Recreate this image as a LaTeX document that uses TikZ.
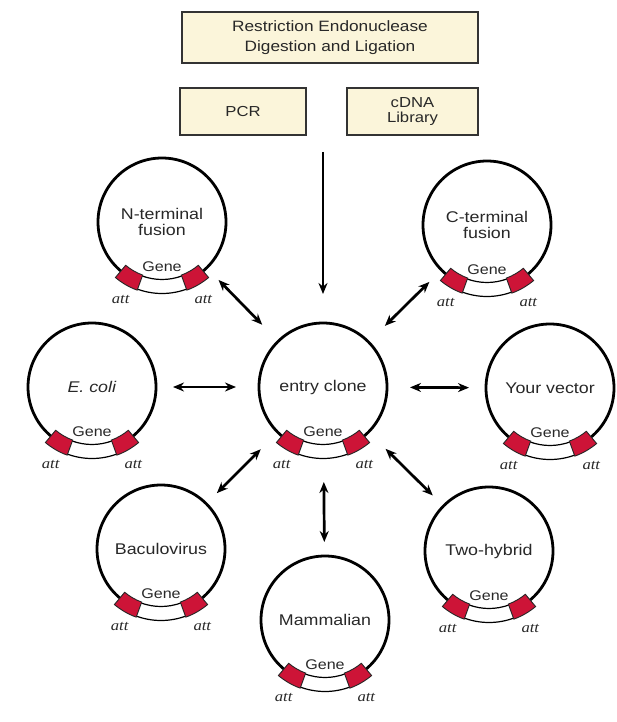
\documentclass[tikz,border=0pt]{standalone}
\usepackage{fontspec}
\setmainfont{Liberation Sans}[FakeStretch=1.15]
\newfontfamily\attfont{Liberation Serif}[FakeStretch=1.15]
\usetikzlibrary{arrows.meta}
\definecolor{cream}{RGB}{251,245,218}
\definecolor{genered}{RGB}{205,20,55}
\definecolor{txt}{RGB}{40,40,40}
\tikzset{
  plas/.style={circle, draw=black, line width=2.8pt, minimum size=128pt, inner sep=0pt, outer sep=0pt,
    text=txt, font=\fontsize{15.5}{16}\selectfont, align=center},
  bandline/.style={draw=black, line width=1.2pt},
  attbox/.style={fill=genered, draw=black!85, line width=0.9pt},
  genelbl/.style={text=txt, font=\fontsize{14}{15}\selectfont, inner sep=0pt},
  attlbl/.style={text=txt, font=\attfont\itshape\fontsize{14.5}{15}\selectfont, inner sep=0pt},
  topbox/.style={draw=black!80, line width=1.9pt, fill=cream, inner sep=0pt, text=txt, align=center},
  dbl/.style={{Stealth[length=11pt,width=9pt]}-{Stealth[length=11pt,width=9pt]}, line width=2.7pt},
  sgl/.style={-{Stealth[length=11pt,width=9pt]}, line width=2.7pt}
}
\newcommand\drawplasmid[4]{%
  \node[plas] (#1) at (#2,#3) {#4};
  \begin{scope}[shift={(#2,#3)}]
    \fill[white] (61:57) arc[start angle=61,end angle=119,radius=57] -- (119:72) arc[start angle=119,end angle=61,radius=72] -- cycle;
    \draw[bandline] (69:57.5) arc[start angle=69,end angle=111,radius=57.5];
    \draw[bandline] (69:71.5) arc[start angle=69,end angle=111,radius=71.5];
    \draw[attbox] (50:56.5) arc[start angle=50,end angle=70,radius=56.5] -- (70:72.5) arc[start angle=70,end angle=50,radius=72.5] -- cycle;
    \draw[attbox] (110:56.5) arc[start angle=110,end angle=130,radius=56.5] -- (130:72.5) arc[start angle=130,end angle=110,radius=72.5] -- cycle;
    \node[genelbl] (#1-gene) at (90:45) {Gene};
    \node[attlbl] (#1-attl) at (118:88) {att};
    \node[attlbl] (#1-attr) at (62:88) {att};
  \end{scope}}
\begin{document}
\begin{tikzpicture}[x=1pt,y=1pt,yscale=-1]
\useasboundingbox[fill=white] (0,0) rectangle (617,722);
% top boxes
\node[topbox, minimum width=296pt, minimum height=51pt, font=\fontsize{15}{20}\selectfont] (rest) at (330,37.5) {Restriction Endonuclease\\Digestion and Ligation};
\node[topbox, minimum width=126pt, minimum height=47pt, font=\fontsize{14.5}{15}\selectfont] (pcr) at (243,111.5) {PCR};
\node[topbox, minimum width=131pt, minimum height=47pt, font=\fontsize{14.5}{15}\selectfont] (cdna) at (412.5,111.5) {cDNA\\Library};
% plasmids
\drawplasmid{nterm}{162}{222}{N-terminal\\fusion}
\drawplasmid{cterm}{487}{225}{C-terminal\\fusion}
\drawplasmid{ecoli}{92}{387}{\textit{E. coli}}
\drawplasmid{ent}{323}{387}{entry clone}
\drawplasmid{yv}{550}{388}{Your vector}
\drawplasmid{bac}{161}{549}{Baculovirus}
\drawplasmid{th}{489}{551}{Two-hybrid}
\drawplasmid{mam}{325}{620}{Mammalian}
% arrows
\coordinate (src) at (323,152);
\draw[sgl, shorten >=29pt] (src) -- (ent);
\draw[dbl, shorten <=23pt, shorten >=17pt] (ent) -- (nterm);
\draw[dbl, shorten <=23pt, shorten >=17pt] (ent) -- (cterm);
\draw[dbl, shorten <=23pt, shorten >=17pt] (ent) -- (ecoli);
\draw[dbl, shorten <=23pt, shorten >=17pt] (ent) -- (yv);
\draw[dbl, shorten <=24pt, shorten >=15pt] (ent) -- (bac);
\draw[dbl, shorten <=24pt, shorten >=15pt] (ent) -- (th);
\draw[dbl, shorten <=31pt, shorten >=14pt] (ent) -- (mam);
\end{tikzpicture}
\end{document}
